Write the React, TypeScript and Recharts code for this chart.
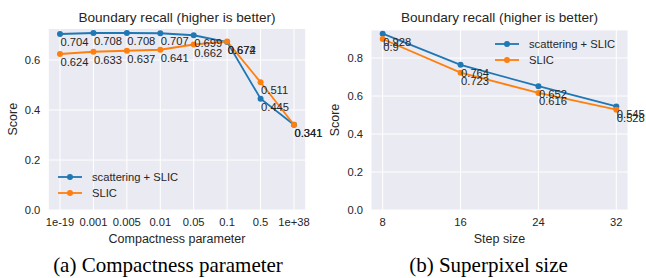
import React from "react";
import { LineChart, Line, XAxis, YAxis, CartesianGrid, LabelList, Legend } from "recharts";

const compactLabels = ["1e-19", "0.001", "0.005", "0.01", "0.05", "0.1", "0.5", "1e+38"];
const compactScattering = [0.704, 0.708, 0.708, 0.707, 0.699, 0.672, 0.445, 0.341];
const compactSlic = [0.624, 0.633, 0.637, 0.641, 0.662, 0.674, 0.511, 0.341];

const stepSizes = [8, 16, 24, 32];
const stepScattering = [0.928, 0.764, 0.652, 0.545];
const stepSlic = [0.9, 0.723, 0.616, 0.528];

const compactTicks = [0, 1, 2, 3, 4, 5, 6, 7];
const compactYTicks = [0, 0.2, 0.4, 0.6];
const stepYTicks = [0, 0.2, 0.4, 0.6, 0.8];

const seriesNames = ["scattering + SLIC", "SLIC"];
const BLUE = "#1f77b4";
const ORANGE = "#ff7f0e";
const BG = "#eaeaf2";
const TXT = "#262626";
const SANS = "'Liberation Sans', Arial, sans-serif";
const SERIF = "'Liberation Serif', 'Times New Roman', serif";

const compactData = compactLabels.map((_, i) => ({ x: i, a: compactScattering[i], b: compactSlic[i] }));
const stepData = stepSizes.map((s, i) => ({ x: s, a: stepScattering[i], b: stepSlic[i] }));

const renderLabel = (p: any) => (
  <text x={p.x + 0.5} y={p.y + 12} fontSize={11.2} fill={TXT} fontFamily={SANS}>
    {String(p.value)}
  </text>
);

const LegendBox = () => (
  <div style={{ fontFamily: SANS, fontSize: 11.2, color: TXT }}>
    {seriesNames.map((n, i) => (
      <div key={n} style={{ height: 16, display: "flex", alignItems: "center", whiteSpace: "nowrap" }}>
        <svg width={34} height={16} style={{ display: "block" }}>
          <line x1={0} y1={8} x2={24} y2={8} stroke={i === 0 ? BLUE : ORANGE} strokeWidth={1.8} />
          <circle cx={12} cy={8} r={3} fill={i === 0 ? BLUE : ORANGE} />
        </svg>
        <span>{n}</span>
      </div>
    ))}
  </div>
);

const tickStyle = { fontSize: 11.2, fill: TXT, fontFamily: SANS };

export default function App() {
  return (
    <div style={{ position: "absolute", left: 0, top: 0, width: 646, height: 278, background: "#fff" }}>
      <div style={{ position: "absolute", left: 0, top: 0 }}>
        <LineChart width={330} height={278} data={compactData} margin={{ top: 28.4, right: 24.3, bottom: 38, left: 8.3 }}>
          <CartesianGrid fill={BG} stroke="#ffffff" strokeWidth={1} />
          <XAxis
            dataKey="x"
            type="number"
            domain={[-0.35, 7.35]}
            ticks={compactTicks}
            tickFormatter={(v: number) => compactLabels[v]}
            axisLine={false}
            tickLine={false}
            tickSize={0}
            tickMargin={8}
            height={30}
            tick={tickStyle}
            interval={0}
          />
          <YAxis
            type="number"
            domain={[0, 0.7264]}
            ticks={compactYTicks}
            tickFormatter={(v: number) => v.toFixed(1)}
            axisLine={false}
            tickLine={false}
            tickSize={0}
            tickMargin={8}
            width={40}
            tick={tickStyle}
            interval={0}
          />
          <Line dataKey="a" stroke={BLUE} strokeWidth={1.8} dot={{ r: 3, fill: BLUE, stroke: BLUE, strokeWidth: 0 }} isAnimationActive={false}>
            <LabelList dataKey="a" content={renderLabel} />
          </Line>
          <Line dataKey="b" stroke={ORANGE} strokeWidth={1.8} dot={{ r: 3, fill: ORANGE, stroke: ORANGE, strokeWidth: 0 }} isAnimationActive={false}>
            <LabelList dataKey="b" content={renderLabel} />
          </Line>
          <Legend layout="vertical" align="center" verticalAlign="middle" content={() => <LegendBox />} wrapperStyle={{ left: 58, top: 169.3, width: "auto" }} />
        </LineChart>
      </div>
      <div style={{ position: "absolute", left: 330, top: 0 }}>
        <LineChart width={316} height={278} data={stepData} margin={{ top: 29.9, right: 18, bottom: 38, left: 1 }}>
          <CartesianGrid fill={BG} stroke="#ffffff" strokeWidth={1} />
          <XAxis
            dataKey="x"
            type="number"
            domain={[6.8, 33.2]}
            ticks={stepSizes}
            axisLine={false}
            tickLine={false}
            tickSize={0}
            tickMargin={8}
            height={30}
            tick={tickStyle}
            interval={0}
          />
          <YAxis
            type="number"
            domain={[0, 0.948]}
            ticks={stepYTicks}
            tickFormatter={(v: number) => v.toFixed(1)}
            axisLine={false}
            tickLine={false}
            tickSize={0}
            tickMargin={8}
            width={40}
            tick={tickStyle}
            interval={0}
          />
          <Line dataKey="a" stroke={BLUE} strokeWidth={1.8} dot={{ r: 3, fill: BLUE, stroke: BLUE, strokeWidth: 0 }} isAnimationActive={false}>
            <LabelList dataKey="a" content={renderLabel} />
          </Line>
          <Line dataKey="b" stroke={ORANGE} strokeWidth={1.8} dot={{ r: 3, fill: ORANGE, stroke: ORANGE, strokeWidth: 0 }} isAnimationActive={false}>
            <LabelList dataKey="b" content={renderLabel} />
          </Line>
          <Legend layout="vertical" align="center" verticalAlign="middle" content={() => <LegendBox />} wrapperStyle={{ left: 165, top: 36, width: "auto" }} />
        </LineChart>
      </div>
      <svg width={646} height={278} style={{ position: "absolute", left: 0, top: 0, pointerEvents: "none" }}>
        <g fontFamily={SANS} fill={TXT}>
          <text x={177} y={21.6} fontSize={13.6} textAnchor="middle">Boundary recall (higher is better)</text>
          <text x={499.5} y={21.6} fontSize={13.6} textAnchor="middle">Boundary recall (higher is better)</text>
          <text x={177} y={242.8} fontSize={12.5} textAnchor="middle">Compactness parameter</text>
          <text x={499.5} y={242.8} fontSize={12.5} textAnchor="middle">Step size</text>
          <text x={0} y={0} fontSize={12.5} textAnchor="middle" dominantBaseline="central" transform="translate(13.3,119.2) rotate(-90)">Score</text>
          <text x={0} y={0} fontSize={12.5} textAnchor="middle" dominantBaseline="central" transform="translate(335,120) rotate(-90)">Score</text>
        </g>
        <g fontFamily={SERIF} fill="#000">
          <text x={168} y={272} fontSize={21} textAnchor="middle">(a) Compactness parameter</text>
          <text x={488.5} y={272} fontSize={21} textAnchor="middle">(b) Superpixel size</text>
        </g>
      </svg>
    </div>
  );
}
